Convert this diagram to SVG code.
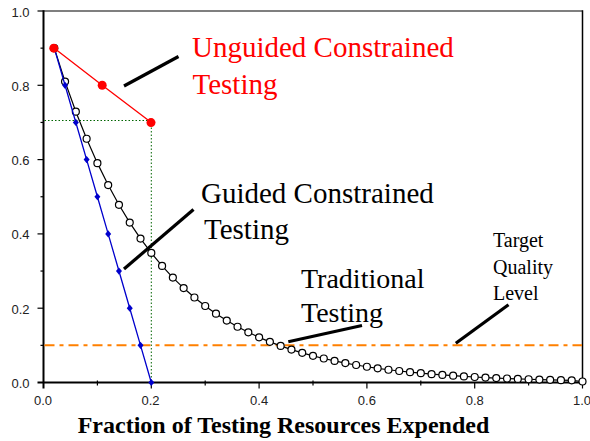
<svg xmlns="http://www.w3.org/2000/svg" xmlns:xlink="http://www.w3.org/1999/xlink" width="590" height="441" viewBox="0 0 590 441">
<style>
.tick{stroke:#000;stroke-width:1.2}
.tl{font-family:"Liberation Sans",Arial,sans-serif;font-size:13px;fill:#222}
.serif{font-family:"Liberation Serif","Times New Roman",serif}
.lead{stroke:#000;stroke-width:3.2;stroke-linecap:butt;fill:none}
.oc{fill:#fff;stroke:#000;stroke-width:1.2}
.rc{fill:#ff0000}
</style>
<defs>
<path id="dm" d="M0,-3.6 L3,0 0,3.6 -3,0Z" fill="#0000cc"/>
</defs>
<rect width="590" height="441" fill="#fff"/>
<g id="axes">
<line x1="43.5" y1="11" x2="582.5" y2="11" stroke="#555" stroke-width="1.5"/>
<line x1="582.5" y1="10.3" x2="582.5" y2="383" stroke="#000" stroke-width="1.5"/>
<line x1="43.5" y1="10.3" x2="43.5" y2="388.5" stroke="#000" stroke-width="2"/>
<line x1="37.5" y1="382.5" x2="583" y2="382.5" stroke="#000" stroke-width="2"/>
<g class="tick">
<line x1="37.5" y1="11" x2="43.5" y2="11"/><line x1="40.5" y1="48.15" x2="43.5" y2="48.15"/>
<line x1="37.5" y1="85.3" x2="43.5" y2="85.3"/><line x1="40.5" y1="122.45" x2="43.5" y2="122.45"/>
<line x1="37.5" y1="159.6" x2="43.5" y2="159.6"/><line x1="40.5" y1="196.75" x2="43.5" y2="196.75"/>
<line x1="37.5" y1="233.9" x2="43.5" y2="233.9"/><line x1="40.5" y1="271.05" x2="43.5" y2="271.05"/>
<line x1="37.5" y1="308.2" x2="43.5" y2="308.2"/><line x1="40.5" y1="345.35" x2="43.5" y2="345.35"/>
<line x1="97.4" y1="380.5" x2="97.4" y2="385.5"/><line x1="151.3" y1="382.5" x2="151.3" y2="388.5"/>
<line x1="205.2" y1="380.5" x2="205.2" y2="385.5"/><line x1="259.1" y1="382.5" x2="259.1" y2="388.5"/>
<line x1="313" y1="380.5" x2="313" y2="385.5"/><line x1="366.9" y1="382.5" x2="366.9" y2="388.5"/>
<line x1="420.8" y1="380.5" x2="420.8" y2="385.5"/><line x1="474.7" y1="382.5" x2="474.7" y2="388.5"/>
<line x1="528.6" y1="380.5" x2="528.6" y2="385.5"/><line x1="582.5" y1="382.5" x2="582.5" y2="388.5"/>
</g>
<g class="tl" text-anchor="end">
<text x="29.5" y="16.5">1.0</text>
<text x="29.5" y="90.8">0.8</text>
<text x="29.5" y="165.1">0.6</text>
<text x="29.5" y="239.4">0.4</text>
<text x="29.5" y="313.7">0.2</text>
<text x="29.5" y="388">0.0</text>
</g>
<g class="tl" text-anchor="middle">
<text x="43" y="405">0.0</text>
<text x="150.5" y="405">0.2</text>
<text x="259.1" y="405">0.4</text>
<text x="366.9" y="405">0.6</text>
<text x="474.7" y="405">0.8</text>
<text x="582" y="405">1.0</text>
</g>
<text class="serif" x="283.5" y="433" text-anchor="middle" font-size="24" font-weight="bold" fill="#000">Fraction of Testing Resources Expended</text>
</g>
<g id="reference-lines">
<line x1="44.5" y1="120.5" x2="151.3" y2="120.5" stroke="#006400" stroke-width="1" stroke-dasharray="1.5 2"/>
<line x1="151.3" y1="120.5" x2="151.3" y2="382" stroke="#006400" stroke-width="1" stroke-dasharray="1.5 2"/>
<line id="target-level" x1="44.5" y1="345.3" x2="582" y2="345.3" stroke="#ff8000" stroke-width="2" stroke-dasharray="10 5 4 5"/>
</g>
<g id="traditional-series">
<polyline fill="none" stroke="#000" stroke-width="1.2" points="54.28,48.15 65.06,81.58 75.84,111.68 86.62,138.76 97.4,163.13 108.18,185.07 118.96,204.81 129.74,222.58 140.52,238.57 151.3,252.96 162.08,265.92 172.86,277.58 183.64,288.07 194.42,297.51 205.2,306.01 215.98,313.66 226.76,320.54 237.54,326.74 248.32,332.32 259.1,337.33 269.88,341.85 280.66,345.92 291.44,349.57 302.22,352.87 313,355.83 323.78,358.5 334.56,360.9 345.34,363.06 356.12,365 366.9,366.75 377.68,368.33 388.46,369.74 399.24,371.02 410.02,372.17 420.8,373.2 431.58,374.13 442.36,374.97 453.14,375.72 463.92,376.4 474.7,377.01 485.48,377.56 496.26,378.05 507.04,378.5 517.82,378.9 528.6,379.26 539.38,379.58 550.16,379.87 560.94,380.14 571.72,380.37 582.5,381.5"/>
<g class="oc">
<circle cx="54.28" cy="48.15" r="3.5"/><circle cx="65.06" cy="81.58" r="3.5"/><circle cx="75.84" cy="111.68" r="3.5"/><circle cx="86.62" cy="138.76" r="3.5"/><circle cx="97.4" cy="163.13" r="3.5"/>
<circle cx="108.18" cy="185.07" r="3.5"/><circle cx="118.96" cy="204.81" r="3.5"/><circle cx="129.74" cy="222.58" r="3.5"/><circle cx="140.52" cy="238.57" r="3.5"/><circle cx="151.3" cy="252.96" r="3.5"/>
<circle cx="162.08" cy="265.92" r="3.5"/><circle cx="172.86" cy="277.58" r="3.5"/><circle cx="183.64" cy="288.07" r="3.5"/><circle cx="194.42" cy="297.51" r="3.5"/><circle cx="205.2" cy="306.01" r="3.5"/>
<circle cx="215.98" cy="313.66" r="3.5"/><circle cx="226.76" cy="320.54" r="3.5"/><circle cx="237.54" cy="326.74" r="3.5"/><circle cx="248.32" cy="332.32" r="3.5"/><circle cx="259.1" cy="337.33" r="3.5"/>
<circle cx="269.88" cy="341.85" r="3.5"/><circle cx="280.66" cy="345.92" r="3.5"/><circle cx="291.44" cy="349.57" r="3.5"/><circle cx="302.22" cy="352.87" r="3.5"/><circle cx="313" cy="355.83" r="3.5"/>
<circle cx="323.78" cy="358.5" r="3.5"/><circle cx="334.56" cy="360.9" r="3.5"/><circle cx="345.34" cy="363.06" r="3.5"/><circle cx="356.12" cy="365" r="3.5"/><circle cx="366.9" cy="366.75" r="3.5"/>
<circle cx="377.68" cy="368.33" r="3.5"/><circle cx="388.46" cy="369.74" r="3.5"/><circle cx="399.24" cy="371.02" r="3.5"/><circle cx="410.02" cy="372.17" r="3.5"/><circle cx="420.8" cy="373.2" r="3.5"/>
<circle cx="431.58" cy="374.13" r="3.5"/><circle cx="442.36" cy="374.97" r="3.5"/><circle cx="453.14" cy="375.72" r="3.5"/><circle cx="463.92" cy="376.4" r="3.5"/><circle cx="474.7" cy="377.01" r="3.5"/>
<circle cx="485.48" cy="377.56" r="3.5"/><circle cx="496.26" cy="378.05" r="3.5"/><circle cx="507.04" cy="378.5" r="3.5"/><circle cx="517.82" cy="378.9" r="3.5"/><circle cx="528.6" cy="379.26" r="3.5"/>
<circle cx="539.38" cy="379.58" r="3.5"/><circle cx="550.16" cy="379.87" r="3.5"/><circle cx="560.94" cy="380.14" r="3.5"/><circle cx="571.72" cy="380.37" r="3.5"/><circle cx="582.5" cy="381.5" r="3.5"/>
</g>
</g>
<g id="guided-series">
<polyline fill="none" stroke="#0000cc" stroke-width="1.3" points="54.28,48.15 65.06,85.3 75.84,122.45 86.62,159.6 97.4,196.75 108.18,233.9 118.96,271.05 129.74,308.2 140.52,345.35 151.3,382.5"/>
<use xlink:href="#dm" x="54.28" y="48.15"/><use xlink:href="#dm" x="65.06" y="85.3"/><use xlink:href="#dm" x="75.84" y="122.45"/><use xlink:href="#dm" x="86.62" y="159.6"/><use xlink:href="#dm" x="97.4" y="196.75"/>
<use xlink:href="#dm" x="108.18" y="233.9"/><use xlink:href="#dm" x="118.96" y="271.05"/><use xlink:href="#dm" x="129.74" y="308.2"/><use xlink:href="#dm" x="140.52" y="345.35"/><use xlink:href="#dm" x="151.3" y="382.5"/>
</g>
<g id="unguided-series">
<polyline fill="none" stroke="#ff0000" stroke-width="1.3" points="54.28,48.15 102.2,85.3 151.3,122.45"/>
<circle class="rc" cx="53.8" cy="48.15" r="4.5"/><circle class="rc" cx="102.2" cy="85.3" r="4.5"/><circle class="rc" cx="151" cy="122.6" r="4.5"/>
</g>
<g id="connectors">
<line class="lead" x1="124" y1="86" x2="178.5" y2="56.5"/>
<line class="lead" x1="124" y1="269" x2="193.5" y2="209.5"/>
<line class="lead" x1="288.3" y1="341.7" x2="362" y2="325.5"/>
<line class="lead" x1="455.8" y1="343.3" x2="508.5" y2="304.8"/>
</g>
<g id="label-unguided" class="serif" font-size="29" fill="#ff0000">
<text x="192" y="57.3">Unguided Constrained</text>
<text x="192.5" y="94">Testing</text>
</g>
<g id="label-guided" class="serif" font-size="29" fill="#000">
<text x="201" y="203.3">Guided Constrained</text>
<text x="204" y="239.3">Testing</text>
</g>
<g id="label-traditional" class="serif" font-size="28" fill="#000">
<text x="301" y="288">Traditional</text>
<text x="301" y="321.5">Testing</text>
</g>
<g id="label-target" class="serif" font-size="20" fill="#000">
<text x="493" y="247.3">Target</text>
<text x="493" y="273.5">Quality</text>
<text x="493" y="299.5">Level</text>
</g>
</svg>
